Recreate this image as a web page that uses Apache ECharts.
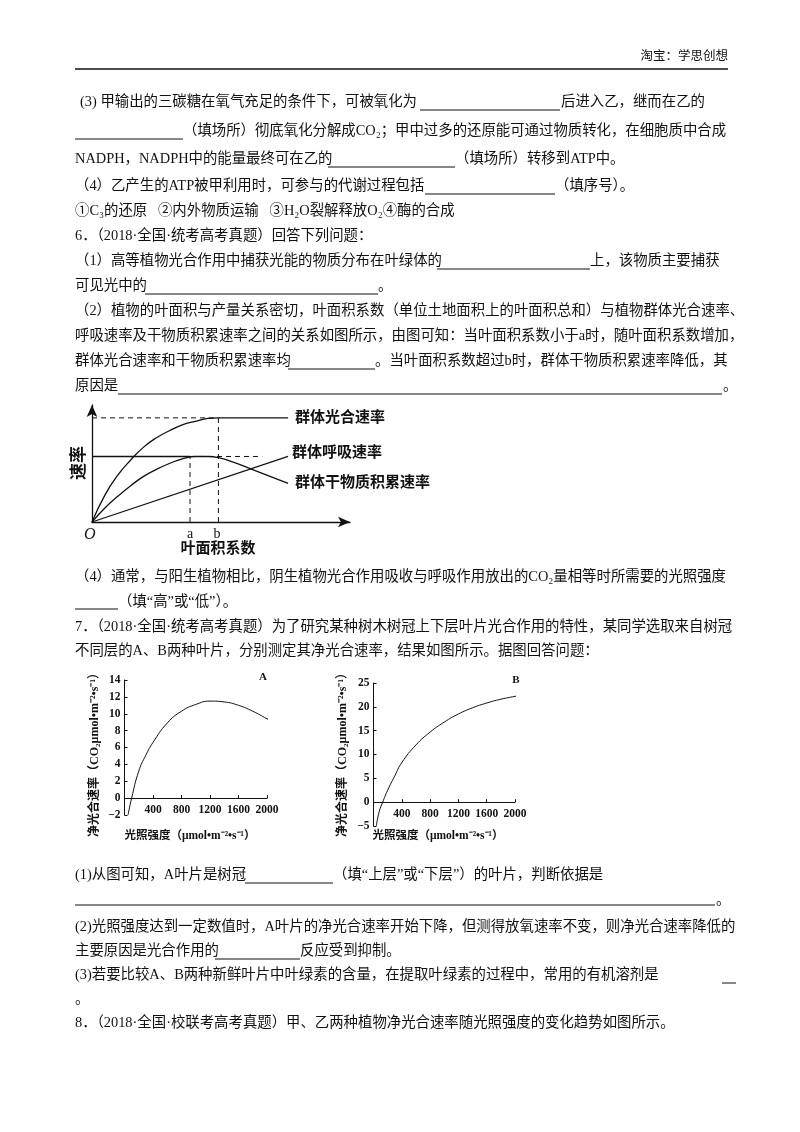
<!DOCTYPE html>
<html>
<head>
<meta charset="utf-8">
<script src="https://cdn.jsdelivr.net/npm/echarts@6/dist/echarts.min.js"></script>
<style>
html,body{margin:0;padding:0;background:#fff;}
#page{width:800px;height:1132px;}
</style>
</head>
<body>
<div id="page"></div>
<script>
// 图1：叶面积系数（横轴为相对单位）
var leafX = [0, 0.5, 1, 1.5, 2, 2.5, 3, 3.5, 4, 4.5, 4.9, 5.5, 6.2, 6.9, 7.6];
var photoRate = [0, 2.3, 4.0, 5.3, 6.4, 7.2, 7.8, 8.3, 8.6, 8.85, 8.9, 8.9, 8.9, 8.9, 8.9];
var dryRate = [0, 1.2, 2.2, 3.1, 3.9, 4.5, 5.0, 5.4, 5.6, 5.6, 5.5, 5.1, 4.5, 3.9, 3.3];
var respX = [0, 7.6];
var respRate = [0, 5.6];
var pointA = 3.8, pointB = 4.9, topLevel = 8.9, midLevel = 5.6;

// 图A、图B：光照强度与净光合速率
var lightA = [50, 100, 200, 300, 400, 600, 800, 1000, 1200, 1400, 1600, 1800, 2000, 2040];
var netA = [-2, 0, 3.2, 5.1, 6.6, 8.9, 10.3, 11.1, 11.5, 11.4, 11.0, 10.3, 9.4, 9.2];
var lightB = [40, 80, 130, 200, 300, 400, 600, 800, 1000, 1200, 1400, 1600, 1800, 2000, 2040];
var netB = [-5, -2, 0, 2.5, 5.5, 8.3, 12, 14.7, 16.8, 18.5, 19.8, 20.8, 21.6, 22.2, 22.3];

var FONT = '"Liberation Serif","Noto Sans CJK SC",serif';

function zip(xs, ys){
	var out = [];
	for(var i=0;i<xs.length;i++){ out.push([xs[i], ys[i]]); }
	return out;
}
function txt(x, y, s, opt){
	opt = opt || {};
	return {
		type:'text', x:x, y:y, rotation:opt.rot || 0,
		style:{
			text:s, fill:'#111', font:(opt.weight||'normal')+' '+(opt.size||14.4)+'px '+FONT,
			textVerticalAlign:'middle', textAlign:opt.align || 'left'
		}
	};
}
function uline(x1, x2, y){
	return {type:'line', shape:{x1:x1,y1:y,x2:x2,y2:y}, style:{stroke:'#111', lineWidth:1}};
}

var texts = [
	txt(728, 57, '淘宝：学思创想', {align:'right', size:12.5}),
	txt(80, 102, '(3) 甲输出的三碳糖在氧气充足的条件下，可被氧化为'),
	txt(561, 102, '后进入乙，继而在乙的'),
	txt(183, 131, '（填场所）彻底氧化分解成CO₂；甲中过多的还原能可通过物质转化，在细胞质中合成'),
	txt(75, 159, 'NADPH，NADPH中的能量最终可在乙的'),
	txt(455, 159, '（填场所）转移到ATP中。'),
	txt(75, 186, '（4）乙产生的ATP被甲利用时，可参与的代谢过程包括'),
	txt(555, 186, '（填序号）。'),
	txt(75, 211, '①C₃的还原   ②内外物质运输   ③H₂O裂解释放O₂④酶的合成'),
	txt(75, 236, '6．（2018·全国·统考高考真题）回答下列问题：'),
	txt(75, 261, '（1）高等植物光合作用中捕获光能的物质分布在叶绿体的'),
	txt(590, 261, '上，该物质主要捕获'),
	txt(75, 286, '可见光中的'),
	txt(378, 286, '。'),
	txt(75, 311, '（2）植物的叶面积与产量关系密切，叶面积系数（单位土地面积上的叶面积总和）与植物群体光合速率、'),
	txt(75, 336, '呼吸速率及干物质积累速率之间的关系如图所示，由图可知：当叶面积系数小于a时，随叶面积系数增加，'),
	txt(75, 361, '群体光合速率和干物质积累速率均'),
	txt(375, 361, '。当叶面积系数超过b时，群体干物质积累速率降低，其'),
	txt(75, 386, '原因是'),
	txt(723, 386, '。'),
	// 图1 标注
	txt(295, 418, '群体光合速率', {size:15, weight:'bold'}),
	txt(292, 453, '群体呼吸速率', {size:15, weight:'bold'}),
	txt(295, 483, '群体干物质积累速率', {size:15, weight:'bold'}),
	txt(80, 463, '速率', {size:17, weight:'bold', rot:Math.PI/2, align:'center'}),
	{type:'text', x:84, y:535, style:{text:'O', fill:'#111', font:'italic 16px '+FONT, textVerticalAlign:'middle'}},
	txt(190, 534, 'a', {size:14, align:'center'}),
	txt(217, 534, 'b', {size:14, align:'center'}),
	txt(218, 549, '叶面积系数', {size:15, weight:'bold', align:'center'}),
	// 图下文字
	txt(75, 577, '（4）通常，与阳生植物相比，阴生植物光合作用吸收与呼吸作用放出的CO₂量相等时所需要的光照强度'),
	txt(118, 602, '（填“高”或“低”）。'),
	txt(75, 627, '7．（2018·全国·统考高考真题）为了研究某种树木树冠上下层叶片光合作用的特性，某同学选取来自树冠'),
	txt(75, 651, '不同层的A、B两种叶片，分别测定其净光合速率，结果如图所示。据图回答问题：'),
	txt(263, 677, 'A', {size:11, weight:'bold', align:'center'}),
	txt(516, 680, 'B', {size:11, weight:'bold', align:'center'}),
	txt(190, 836, '光照强度（μmol•m⁻²•s⁻¹）', {size:11.5, weight:'bold', align:'center'}),
	txt(438, 836, '光照强度（μmol•m⁻²•s⁻¹）', {size:11.5, weight:'bold', align:'center'}),
	txt(95, 752, '净光合速率（CO₂μmol•m⁻²•s⁻¹）', {size:12, weight:'bold', rot:Math.PI/2, align:'center'}),
	txt(343, 752, '净光合速率（CO₂μmol•m⁻²•s⁻¹）', {size:12, weight:'bold', rot:Math.PI/2, align:'center'}),
	txt(75, 875, '(1)从图可知，A叶片是树冠'),
	txt(333, 875, '（填“上层”或“下层”）的叶片，判断依据是'),
	txt(716, 900, '。'),
	txt(75, 927, '(2)光照强度达到一定数值时，A叶片的净光合速率开始下降，但测得放氧速率不变，则净光合速率降低的'),
	txt(75, 951, '主要原因是光合作用的'),
	txt(300, 951, '反应受到抑制。'),
	txt(75, 975, '(3)若要比较A、B两种新鲜叶片中叶绿素的含量，在提取叶绿素的过程中，常用的有机溶剂是'),
	txt(75, 999, '。'),
	txt(75, 1023, '8．（2018·全国·校联考高考真题）甲、乙两种植物净光合速率随光照强度的变化趋势如图所示。')
];
var lines = [
	{type:'line', shape:{x1:75,y1:69,x2:728,y2:69}, style:{stroke:'#111', lineWidth:1.5}},
	uline(420, 560, 110), uline(75, 183, 139), uline(328, 455, 167), uline(425, 555, 194),
	uline(437, 590, 269), uline(145, 378, 294), uline(288, 375, 369), uline(118, 722, 394),
	uline(75, 118, 609), uline(245, 333, 883), uline(75, 715, 905), uline(215, 300, 959), uline(722, 736, 983)
];

var chart = echarts.init(document.getElementById('page'), null, {renderer:'canvas'});
var axisLine = {lineStyle:{color:'#111', width:1}};
var dash = {color:'#111', width:1, type:[5,4]};
var solid = {color:'#111', width:1.3};

chart.setOption({
	animation:false,
	backgroundColor:'#fff',
	grid:[
		{left:92, top:405, width:258, height:117},
		{left:124.5, top:680, width:142.5, height:135},
		{left:373.5, top:683, width:141.5, height:143}
	],
	xAxis:[
		{gridIndex:0, type:'value', min:0, max:10, axisLine:{lineStyle:{color:'#111', width:1.3}, symbol:['none','arrow'], symbolSize:[8,12]},
			axisTick:{show:false}, axisLabel:{show:false}, splitLine:{show:false}},
		{gridIndex:1, type:'value', min:0, max:2000, interval:400, axisLine:axisLine,
			axisTick:{inside:true, length:3, lineStyle:{color:'#111'}},
			axisLabel:{fontSize:11.5, color:'#111', fontFamily:FONT, fontWeight:'bold', margin:-11,
				formatter:function(v){ return v===0 ? '' : v; }}, splitLine:{show:false}},
		{gridIndex:2, type:'value', min:0, max:2000, interval:400, axisLine:axisLine,
			axisTick:{inside:true, length:3, lineStyle:{color:'#111'}},
			axisLabel:{fontSize:11.5, color:'#111', fontFamily:FONT, fontWeight:'bold', margin:-18,
				formatter:function(v){ return v===0 ? '' : v; }}, splitLine:{show:false}}
	],
	yAxis:[
		{gridIndex:0, type:'value', min:0, max:10, axisLine:{lineStyle:{color:'#111', width:1.3}, symbol:['none','arrow'], symbolSize:[8,12]},
			axisTick:{show:false}, axisLabel:{show:false}, splitLine:{show:false}},
		{gridIndex:1, type:'value', min:-2, max:14, interval:2, axisLine:{show:true, lineStyle:{color:'#111'}},
			axisTick:{show:true, inside:true, length:3, lineStyle:{color:'#111'}},
			axisLabel:{fontSize:11.5, color:'#111', fontFamily:FONT, fontWeight:'bold', margin:4,
				formatter:function(v){ return v<0 ? '−'+(-v) : v; }}, splitLine:{show:false}},
		{gridIndex:2, type:'value', min:-5, max:25, interval:5, axisLine:{show:true, lineStyle:{color:'#111'}},
			axisTick:{show:true, inside:true, length:3, lineStyle:{color:'#111'}},
			axisLabel:{fontSize:11.5, color:'#111', fontFamily:FONT, fontWeight:'bold', margin:4,
				formatter:function(v){ return v<0 ? '−'+(-v) : v; }}, splitLine:{show:false}}
	],
	series:[
		{type:'line', xAxisIndex:0, yAxisIndex:0, data:zip(leafX, photoRate), smooth:true, showSymbol:false, lineStyle:solid},
		{type:'line', xAxisIndex:0, yAxisIndex:0, data:zip(leafX, dryRate), smooth:true, showSymbol:false, lineStyle:solid},
		{type:'line', xAxisIndex:0, yAxisIndex:0, data:zip(respX, respRate), showSymbol:false, lineStyle:solid},
		{type:'line', xAxisIndex:0, yAxisIndex:0, data:[[0, midLevel],[pointA, midLevel]], showSymbol:false, lineStyle:solid},
		{type:'line', xAxisIndex:0, yAxisIndex:0, data:[[pointA, midLevel],[6.6, midLevel]], showSymbol:false, lineStyle:dash},
		{type:'line', xAxisIndex:0, yAxisIndex:0, data:[[0, topLevel],[pointB, topLevel]], showSymbol:false, lineStyle:dash},
		{type:'line', xAxisIndex:0, yAxisIndex:0, data:[[pointB, 0],[pointB, topLevel]], showSymbol:false, lineStyle:dash},
		{type:'line', xAxisIndex:0, yAxisIndex:0, data:[[pointA, 0],[pointA, midLevel]], showSymbol:false, lineStyle:dash},
		{type:'line', xAxisIndex:1, yAxisIndex:1, data:zip(lightA, netA), smooth:true, clip:false, showSymbol:false, lineStyle:{color:'#111', width:1}},
		{type:'line', xAxisIndex:2, yAxisIndex:2, data:zip(lightB, netB), smooth:true, clip:false, showSymbol:false, lineStyle:{color:'#111', width:1}}
	],
	graphic:lines.concat(texts)
});
</script>
</body>
</html>
